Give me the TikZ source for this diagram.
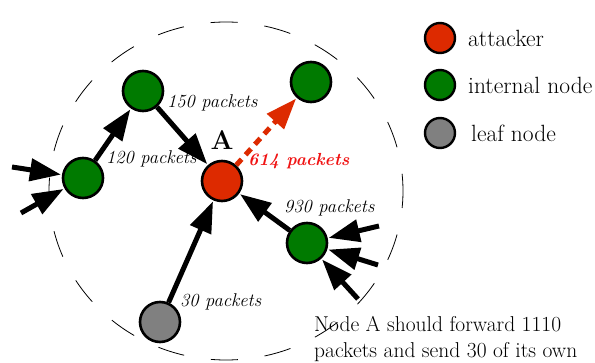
\documentclass[tikz,border=0pt]{standalone}
\usetikzlibrary{arrows.meta}
\definecolor{atkred}{RGB}{221,42,0}
\definecolor{intgreen}{RGB}{0,122,0}
\definecolor{leafgray}{RGB}{128,128,128}
\definecolor{lblred}{RGB}{240,20,20}
\tikzset{
  nd/.style={circle,draw=black,line width=2.6pt,minimum size=40pt,inner sep=0pt},
  legnd/.style={circle,draw=black,line width=2.4pt,minimum size=30pt,inner sep=0pt},
  flow/.style={line width=5pt,-{Triangle[length=31pt,width=22pt]},shorten >=1pt},
  lbl/.style={font=\fontsize{18.5}{20}\selectfont\itshape,inner sep=0pt},
  legtxt/.style={font=\fontsize{23.5}{25}\selectfont,anchor=west,inner sep=0pt}
}
\begin{document}
\begin{tikzpicture}[x=1pt,y=-1pt]
\useasboundingbox (0,0) rectangle (595,363);
% neighbourhood boundary
\draw[line width=0.8pt,dash pattern=on 27pt off 27pt,dash phase=10pt] (226,191) ellipse [x radius=177,y radius=169];
% nodes
\node[nd,fill=atkred] (A) at (222,181) {};
\node[nd,fill=intgreen] (top) at (143,91) {};
\node[nd,fill=intgreen] (left) at (83,178) {};
\node[nd,fill=intgreen] (tr) at (311,82) {};
\node[nd,fill=intgreen] (right) at (307,243) {};
\node[nd,fill=leafgray] (leaf) at (160,322) {};
% incoming traffic sources
\coordinate (l1) at (12,167);
\coordinate (l2) at (21,213);
\coordinate (r1) at (379,226);
\coordinate (r2) at (378,265);
\coordinate (r3) at (358,299);
% connectors
\draw[flow] (l1) -- (left);
\draw[flow] (l2) -- (left);
\draw[flow] (r1) -- (right);
\draw[flow] (r2) -- (right);
\draw[flow] (r3) -- (right);
\draw[flow] (left) -- (top);
\draw[flow] (top) -- (A);
\draw[flow] (leaf) -- (A);
\draw[flow] (right) -- (A);
\draw[flow,atkred,dash pattern=on 8pt off 6pt] (A) -- (tr);
% labels
\node[lbl,anchor=west] (l150) at (167,103) {150 packets};
\node[lbl,anchor=west] (l120) at (106,159) {120 packets};
\node[lbl,anchor=west] (l930) at (284,208) {930 packets};
\node[lbl,anchor=west] (l30) at (180,302) {30 packets};
\node[lbl,anchor=west,font=\fontsize{17.5}{20}\selectfont\bfseries\itshape,text=lblred] (l614) at (248,161) {614 packets};
\node[font=\fontsize{27}{30}\selectfont\bfseries,inner sep=0pt] (Alab) at (222,140) {A};
\node[anchor=north west,align=left,font=\fontsize{21.5}{26}\selectfont,inner sep=0pt] (note) at (314,316) {Node A should forward 1110\\packets and send 30 of its own};
% legend
\node[legnd,fill=atkred] (k1) at (440,38) {};
\node[legnd,fill=intgreen] (k2) at (440,85) {};
\node[legnd,fill=leafgray] (k3) at (440,133) {};
\node[legtxt] at (468,38) {attacker};
\node[legtxt] at (468,85) {internal node};
\node[legtxt] at (471,133) {leaf node};
\end{tikzpicture}
\end{document}
